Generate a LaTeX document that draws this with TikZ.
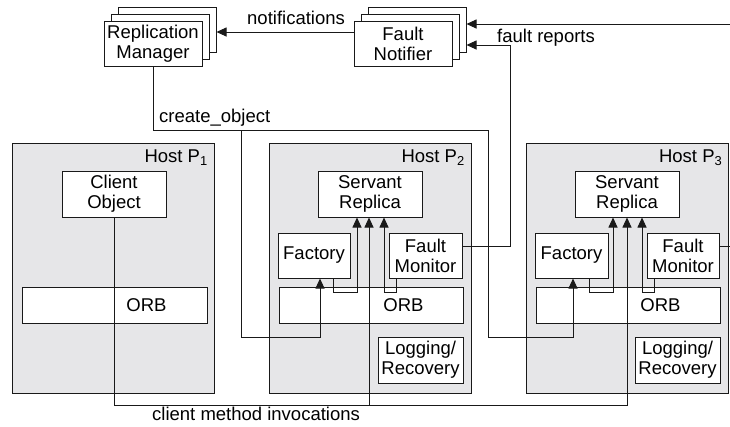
\documentclass[tikz,border=0pt]{standalone}
\usepackage{fontspec}
\setmainfont{Liberation Sans}
\usetikzlibrary{arrows.meta,calc}
\definecolor{ink}{RGB}{25,25,25}
\definecolor{hostgray}{RGB}{230,230,232}
\begin{document}
\begin{tikzpicture}[x=1pt,y=-1pt,
  font=\fontsize{18.5}{20}\selectfont,
  box/.style={draw=ink, fill=white, line width=1pt, inner sep=1pt, align=center},
  host/.style={draw=ink, fill=hostgray, line width=1pt},
  conn/.style={draw=ink, line width=0.9pt},
  arr/.style={conn, -{Triangle[width=9pt,length=10pt]}},
  mgr/.style={box, minimum width=98pt, minimum height=45pt},
  srv/.style={box, minimum width=104pt, minimum height=46pt},
  small/.style={box, minimum width=72pt, minimum height=45pt},
  orbbox/.style={box, minimum width=184pt, minimum height=36pt},
  logbox/.style={box, minimum width=85pt, minimum height=46pt},
  hostbox/.style={host, minimum width=202pt, minimum height=250pt},
  lab/.style={anchor=base west, inner sep=0pt},
]
\useasboundingbox (0,0) rectangle (730,426);

% replicated managers (stacked)
\node[mgr] (rmC) at (167,29.5) {};
\node[mgr] (rmB) at (160,36.5) {};
\node[mgr] (rm)  at (153,43.5) {Replication\\Manager};

\node[mgr] (fnC) at (417,29.5) {};
\node[mgr] (fnB) at (410,36.5) {};
\node[mgr] (fn)  at (403,43.5) {Fault\\Notifier};

% hosts
\node[hostbox] (h1) at (113.5,268) {};
\node[hostbox] (h2) at (370.5,268) {};
\node[hostbox] (h3) at (627,268) {};
\node[anchor=base east, inner sep=0pt] (h1lab) at ($(h1.north east)+(-7,20)$) {Host P\textsubscript{1}};
\node[anchor=base east, inner sep=0pt] (h2lab) at ($(h2.north east)+(-7,20)$) {Host P\textsubscript{2}};
\node[anchor=base east, inner sep=0pt] (h3lab) at ($(h3.north east)+(-6,20)$) {Host P\textsubscript{3}};

% host P1
\node[srv] (co) at (114,194) {Client\\Object};
\node[orbbox, minimum width=185pt] (orb1) at (114.5,305) {};
\node (orb1lab) at ($(orb1.west)+(125,0)$) {ORB};

% host P2
\node[srv] (sr2) at (370,194) {Servant\\Replica};
\node[small] (f2) at (314,255.5) {Factory};
\node[small, minimum width=73pt] (fm2) at (425.5,255.5) {Fault\\Monitor};
\node[orbbox] (orb2) at (371,305) {};
\node (orb2lab) at ($(orb2.west)+(125,0)$) {ORB};
\node[logbox] (lr2) at (420.5,360) {Logging/\\Recovery};

% host P3
\node[srv] (sr3) at (627,194) {Servant\\Replica};
\node[small, minimum width=73pt] (f3) at (571.5,255.5) {Factory};
\node[small] (fm3) at (683,255.5) {Fault\\Monitor};
\node[orbbox] (orb3) at (628,305) {};
\node (orb3lab) at ($(orb3.west)+(125,0)$) {ORB};
\node[logbox] (lr3) at (677.5,360) {Logging/\\Recovery};

% notifications and fault reports
\draw[arr] (fn.west |- 0,32) -- (rmC.east |- 0,32);
\node[lab] (notif) at (247,24) {notifications};
\draw[arr] (fm3.east |- 0,246) -- (733,246) |- (fnC.east |- 0,24);
\draw[arr] (fm2.east |- 0,246) -| (510,45) -- (fnC.east |- 0,45);
\node[lab] (frep) at (497,42) {fault reports};

% create_object
\draw[arr] (rm.south) |- (488,130) -- (488,337) -| (f3.south -| 573,0);
\draw[arr] (241,130) -- (241,337) -| (f2.south -| 320,0);
\node[lab] (cobj) at (159,122) {create\_object};

% client method invocations
\draw[arr] (co.south) -- (co.south |- 0,405) -| (sr3.south -| 627,0);
\draw[arr] (369,405) -- (sr2.south -| 369,0);
\node[lab] (cmi) at (152,420) {client method invocations};

% local paths to the servant replicas
\draw[arr] (f2.south -| 333,0) |- (357,292) -- (sr2.south -| 357,0);
\draw[arr] (fm2.south -| 396,0) |- (384,292) -- (sr2.south -| 384,0);
\draw[arr] (f3.south -| 589,0) |- (613,292) -- (sr3.south -| 613,0);
\draw[arr] (fm3.south -| 654,0) |- (642,292) -- (sr3.south -| 642,0);
\end{tikzpicture}
\end{document}
